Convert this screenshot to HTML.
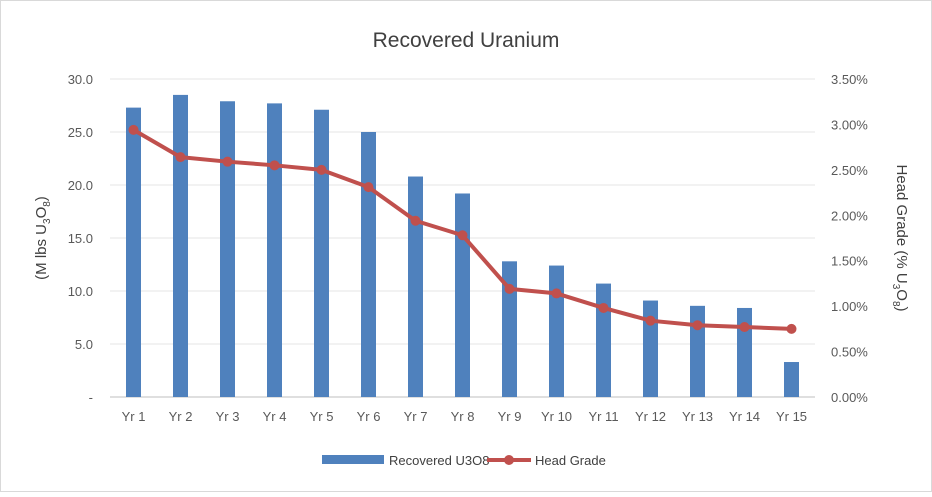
<!DOCTYPE html>
<html><head><meta charset="utf-8"><style>
body{margin:0;background:#fff;}
svg{font-family:"Liberation Sans",sans-serif;}
</style></head><body>
<svg width="932" height="492" viewBox="0 0 932 492">
<rect x="0.5" y="0.5" width="931" height="491" fill="#fff" stroke="#d9d9d9"/>
<text x="466" y="47" text-anchor="middle" font-size="21" fill="#404040">Recovered Uranium</text>
<g id="grid"></g><g id="bars"></g><g id="line"></g><g id="axes"></g>
<text transform="translate(46,238) rotate(-90)" text-anchor="middle" font-size="15" fill="#404040">(M lbs U<tspan font-size="10" dy="4">3</tspan><tspan dy="-4">O</tspan><tspan font-size="10" dy="4">8</tspan><tspan dy="-4">)</tspan></text>
<text transform="translate(897,238) rotate(90)" text-anchor="middle" font-size="15" fill="#404040">Head Grade (% U<tspan font-size="10" dy="4">3</tspan><tspan dy="-4">O</tspan><tspan font-size="10" dy="4">8</tspan><tspan dy="-4">)</tspan></text>
<g>
<rect x="322" y="455" width="62" height="9" fill="#4f81bd"/>
<text x="389" y="465" font-size="13" fill="#404040">Recovered U3O8</text>
<line x1="487" y1="460" x2="531" y2="460" stroke="#c0504d" stroke-width="4"/>
<circle cx="509" cy="460" r="5" fill="#c0504d"/>
<text x="535" y="465" font-size="13" fill="#404040">Head Grade</text>
</g>
</svg>
<script>
const categories=["Yr 1","Yr 2","Yr 3","Yr 4","Yr 5","Yr 6","Yr 7","Yr 8","Yr 9","Yr 10","Yr 11","Yr 12","Yr 13","Yr 14","Yr 15"];
const recovered=[27.3,28.5,27.9,27.7,27.1,25.0,20.8,19.2,12.8,12.4,10.7,9.1,8.6,8.4,3.3];
const headGrade=[2.94,2.64,2.59,2.55,2.50,2.31,1.94,1.78,1.19,1.14,0.98,0.84,0.79,0.77,0.75];
const leftTicks=[0,5,10,15,20,25,30];
const leftTickLabels=["-","5.0","10.0","15.0","20.0","25.0","30.0"];
const rightTicks=[0,0.5,1,1.5,2,2.5,3,3.5];
const rightTickLabels=["0.00%","0.50%","1.00%","1.50%","2.00%","2.50%","3.00%","3.50%"];
const NS="http://www.w3.org/2000/svg";
const X0=110,X1=815,Y0=397,Y1=79;
const band=(X1-X0)/categories.length;
const xC=i=>X0+band*(i+0.5);
const yL=v=>Y0-(v/30)*(Y0-Y1);
const yR=v=>Y0-(v/3.5)*(Y0-Y1);
function mk(tag,attrs,parent){const e=document.createElementNS(NS,tag);for(const k in attrs)e.setAttribute(k,attrs[k]);parent.appendChild(e);return e;}
const grid=document.getElementById('grid'),bars=document.getElementById('bars'),line=document.getElementById('line'),axes=document.getElementById('axes');
leftTicks.forEach((t,i)=>{
 const g=mk('line',{x1:X0,x2:X1,y1:yL(t),y2:yL(t),stroke:i==0?'#bfbfbf':'#e6e6e6','stroke-width':1},grid);
 
 
 const tx=mk('text',{x:93,y:yL(t)+5,'text-anchor':'end','font-size':13,fill:'#595959'},axes);
 tx.textContent=leftTickLabels[i];
 
 
});
rightTicks.forEach((t,i)=>{
 const tx=mk('text',{x:831,y:yR(t)+5,'font-size':13,fill:'#595959'},axes);
 tx.textContent=rightTickLabels[i];
 
 
});
categories.forEach((c,i)=>{
 const b=mk('rect',{x:xC(i)-7.5,y:yL(recovered[i]),width:15,height:Y0-yL(recovered[i]),fill:'#4f81bd'},bars);
 
 
 const tx=mk('text',{x:xC(i),y:421,'text-anchor':'middle','font-size':13,fill:'#595959'},axes);
 tx.textContent=c;
 
 
});
const pts=headGrade.map((v,i)=>xC(i)+','+yR(v)).join(' ');
const pl=mk('polyline',{points:pts,fill:'none',stroke:'#c0504d','stroke-width':4,'stroke-linejoin':'round'},line);


headGrade.forEach((v,i)=>{
 const c=mk('circle',{cx:xC(i),cy:yR(v),r:5,fill:'#c0504d'},line);
 
 
});
</script>
</body></html>
